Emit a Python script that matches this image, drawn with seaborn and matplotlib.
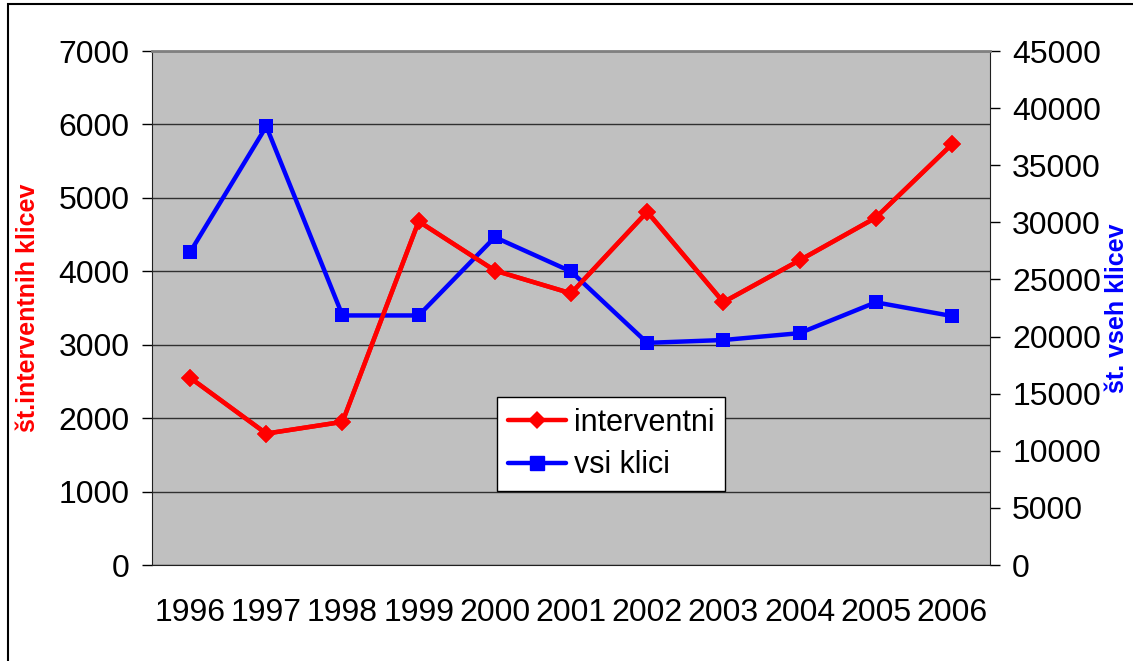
import pandas as pd
import numpy as np
import seaborn as sns
import matplotlib.pyplot as plt
from matplotlib.patches import Rectangle

years = ["1996", "1997", "1998", "1999", "2000", "2001", "2002", "2003", "2004", "2005", "2006"]
interventni = [2550, 1790, 1950, 4680, 4010, 3700, 4810, 3580, 4150, 4730, 5730]
vsi_klici = [27400, 38400, 21850, 21850, 28700, 25700, 19450, 19700, 20300, 23000, 21800]

df = pd.DataFrame({"pos": np.arange(len(years)), "interventni": interventni, "vsi": vsi_klici})

sns.set_style("white")
plt.rcParams['font.family'] = ['Liberation Sans', 'DejaVu Sans']
plt.rcParams['text.color'] = 'black'
plt.rcParams['xtick.color'] = 'black'
plt.rcParams['ytick.color'] = 'black'

fig = plt.figure(figsize=(11.33, 6.61), dpi=100)
ax = fig.add_axes([0.1342, 0.1452, 0.7396, 0.7776])
ax2 = ax.twinx()

ax.set_facecolor("#C0C0C0")
ax.set_zorder(ax2.get_zorder() - 1)
ax2.patch.set_visible(False)

# red on the left scale, blue on the right scale
sns.lineplot(data=df, x="pos", y="interventni", ax=ax, color="#FF0000", lw=3.2,
             marker="D", markersize=9, markeredgewidth=0, label="interventni", legend=False)
ax.plot([], [], color="#0000FF", lw=3.2, marker="s", markersize=10, label="vsi klici")
sns.lineplot(data=df, x="pos", y="vsi", ax=ax2, color="#0000FF", lw=3.2,
             marker="s", markersize=10, markeredgewidth=0, legend=False)
# redraw red on top of blue
ax2.plot(df["pos"], np.array(interventni) * 45000 / 7000, color="#FF0000", lw=3.2,
         marker="D", markersize=9, markeredgewidth=0)

ax.set_xlim(-0.5, 10.5)
ax.set_ylim(0, 7000)
ax2.set_ylim(0, 45000)
ax.set_yticks(range(0, 7001, 1000))
ax2.set_yticks(range(0, 45001, 5000))

ax.set_xticks(np.arange(len(years)))
ax.set_xticklabels(years)
ax.set_xticks(np.arange(-0.5, 10.6, 1), minor=True)
ax.tick_params(axis="x", which="major", length=0, pad=24, labelsize=23)
ax.tick_params(axis="x", which="minor", length=8, width=1, direction="out", color="black")
ax.tick_params(axis="y", length=7, width=1, direction="out", labelsize=23, pad=9, color="black", left=True)
ax2.tick_params(axis="y", length=7, width=1, direction="out", labelsize=23, pad=9, color="black", right=True)

ax.grid(axis="y", color="#303030", lw=1)
ax.set_axisbelow(True)
ax.set_xlabel("")
ax.set_ylabel("št.interventnih klicev", color="#FF0000", fontsize=18, fontweight="bold")
ax2.set_ylabel("št. vseh klicev", color="#0000FF", fontsize=18, fontweight="bold", rotation=90)
ax.yaxis.set_label_coords(-0.148, 0.5)
ax2.yaxis.set_label_coords(1.152, 0.5)
ax.yaxis.label.set_va("center")
ax2.yaxis.label.set_va("center")

for a in (ax, ax2):
    for s in ["top", "right", "left", "bottom"]:
        a.spines[s].set_visible(False)
for s in ["left", "bottom", "right"]:
    ax2.spines[s].set_visible(True)
    ax2.spines[s].set_color("#202020")
ax2.spines["top"].set_visible(True)
ax2.spines["top"].set_color("#808080")
ax2.spines["top"].set_linewidth(2)

leg = ax2.legend(*ax.get_legend_handles_labels(), loc="lower left", bbox_to_anchor=(0.412, 0.144),
                 borderaxespad=0, fontsize=22, frameon=True, fancybox=False, edgecolor="black",
                 framealpha=1, handlelength=1.9, borderpad=0.35, labelspacing=0.4, handletextpad=0.25)
leg.get_frame().set_linewidth(1)

# outer frame: only the top and left edges fall inside the picture
fig.patches.append(Rectangle((8 / 1133, -0.1), 1.2, 1.1 - 4 / 661,
                             transform=fig.transFigure, fill=False, edgecolor="black", lw=1.5))

fig.savefig("out.png", dpi=100)
